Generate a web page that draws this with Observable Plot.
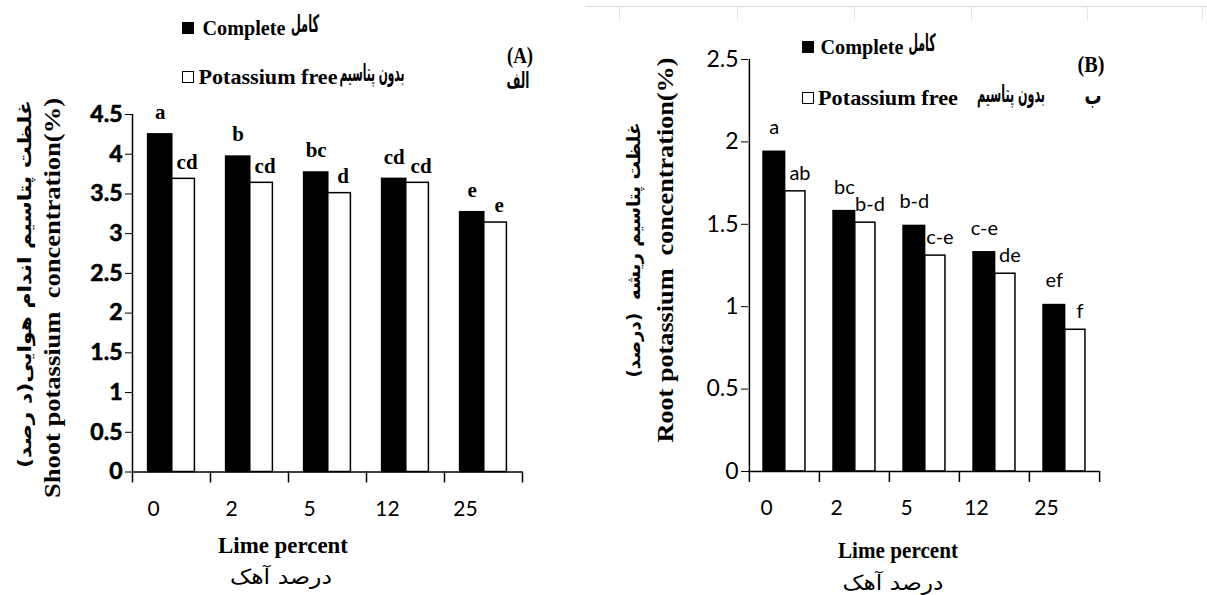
<!DOCTYPE html>
<html>
<head>
<meta charset="utf-8">
<script src="https://cdn.jsdelivr.net/npm/d3@7"></script>
<script src="https://cdn.jsdelivr.net/npm/@observablehq/plot@0.6"></script>
<style>
  body { margin: 0; background: #fff; }
  #wrap { position: relative; width: 1207px; height: 595px; overflow: hidden; background: #fff; }
  #wrap svg { position: absolute; top: 0; }
  .abs { position: absolute; white-space: pre; color: #000; line-height: 1; }
  .sq { position: absolute; box-sizing: border-box; }
  .grid { position: absolute; background: #d9d9d9; }
</style>
</head>
<body>
<div id="wrap"></div>
<script>
// ---------- data ----------
const limePercent = ["0", "2", "5", "12", "25"];
const seriesNames = ["Complete", "Potassium free"];

// Panel A: shoot potassium concentration (%)
const shootComplete = [4.25, 3.97, 3.77, 3.69, 3.27];
const shootKFree    = [3.69, 3.64, 3.51, 3.64, 3.14];
const shootLettersComplete = ["a", "b", "bc", "cd", "e"];
const shootLettersKFree    = ["cd", "cd", "d", "cd", "e"];
const shootTicks = [0, 0.5, 1, 1.5, 2, 2.5, 3, 3.5, 4, 4.5];

// Panel B: root potassium concentration (%)
const rootComplete = [1.94, 1.58, 1.49, 1.33, 1.01];
const rootKFree    = [1.70, 1.51, 1.31, 1.20, 0.86];
const rootLettersComplete = ["a", "bc", "b-d", "c-e", "ef"];
const rootLettersKFree    = ["ab", "b-d", "c-e", "de", "f"];
const rootTicks = [0, 0.5, 1, 1.5, 2, 2.5];

// ---------- drawing ----------
const wrap = document.getElementById("wrap");
const NARROW = "'Liberation Sans Narrow', Lato, sans-serif";

function panel(cfg) {
  const rows = limePercent.map((lime, i) => ({
    lime,
    complete: cfg.complete[i],
    free: cfg.free[i],
    lc: cfg.lettersC[i],
    lf: cfg.lettersF[i]
  }));
  const bw = (cfg.width - cfg.ml - cfg.mr) / limePercent.length;
  const last = limePercent[limePercent.length - 1];
  const svg = Plot.plot({
    width: cfg.width,
    height: 595,
    marginLeft: cfg.ml,
    marginRight: cfg.mr,
    marginTop: cfg.mt,
    marginBottom: cfg.mb,
    style: {
      fontFamily: NARROW,
      fontSize: "23px",
      fontWeight: cfg.tickWeight,
      color: "#000",
      background: "transparent",
      overflow: "visible"
    },
    x: {type: "band", domain: limePercent, paddingInner: 0, paddingOuter: 0, axis: null},
    y: {domain: [0, cfg.ymax], ticks: cfg.ticks, tickFormat: d => String(d), tickSize: 7, tickPadding: 3, label: null},
    marks: [
      Plot.barY(rows, {x: "lime", y: "complete", fill: "#000", stroke: "#000", strokeWidth: 1.5,
        insetLeft: bw * 0.2, insetRight: bw * 0.49, title: () => seriesNames[0]}),
      Plot.barY(rows, {x: "lime", y: "free", fill: "#fff", stroke: "#000", strokeWidth: 1.5,
        insetLeft: bw * 0.51, insetRight: bw * 0.2, title: () => seriesNames[1]}),
      Plot.ruleY([0], {stroke: "#000", strokeWidth: 1.5}),
      Plot.ruleX([limePercent[0]], {x: d => d, dx: -bw / 2, stroke: "#000", strokeWidth: 1.5}),
      Plot.ruleX(limePercent, {x: d => d, y1: 0, y2: 0, dx: -bw / 2, insetBottom: -11, stroke: "#000", strokeWidth: 1.5}),
      Plot.ruleX([last], {x: d => d, y1: 0, y2: 0, dx: bw / 2, insetBottom: -11, stroke: "#000", strokeWidth: 1.5}),
      Plot.text(limePercent, {x: d => d, y: 0, text: d => d, dx: -18, dy: 37,
        fontFamily: NARROW, fontSize: 21, fontWeight: "normal"}),
      Plot.text(rows, {x: "lime", y: "complete", text: "lc", dx: -0.145 * bw, dy: cfg.dyC,
        fontFamily: cfg.letterFont, fontSize: cfg.letterSize, fontWeight: cfg.letterWeight}),
      Plot.text(rows, {x: "lime", y: "free", text: "lf", dx: cfg.dxF * bw, dy: cfg.dyF,
        fontFamily: cfg.letterFont, fontSize: cfg.letterSize, fontWeight: cfg.letterWeight})
    ]
  });
  svg.style.left = cfg.left + "px";
  // y-axis tick labels: font weight / size as in the reference
  svg.querySelectorAll('g[aria-label^="y-axis"] text').forEach(t => {
    t.style.fontFamily = NARROW;
    t.style.fontSize = "23px";
    t.style.fontWeight = cfg.tickWeight;
    if (cfg.tickWeight === "bold") { t.style.stroke = "#000"; t.style.strokeWidth = "0.6px"; }
  });
  wrap.appendChild(svg);
}

panel({left: 0, width: 600, ml: 132, mr: 78, mt: 114, mb: 123.5, ymax: 4.5, ticks: shootTicks,
  complete: shootComplete, free: shootKFree, lettersC: shootLettersComplete, lettersF: shootLettersKFree,
  tickWeight: "bold", letterFont: "'Liberation Serif', serif", letterSize: 21, letterWeight: "bold",
  dyC: -22, dyF: -17, dxF: 0.2});

panel({left: 600, width: 607, ml: 148, mr: 108, mt: 59, mb: 124, ymax: 2.5, ticks: rootTicks,
  complete: rootComplete, free: rootKFree, lettersC: rootLettersComplete, lettersF: rootLettersKFree,
  tickWeight: "normal", letterFont: NARROW, letterSize: 20, letterWeight: "normal",
  dyC: -24, dyF: -18, dxF: 0.22});

// ---------- texts (titles, legends) ----------
const SERIF = "'Liberation Serif', 'Times New Roman', serif";
const FA = "'DejaVu Sans', sans-serif";
function label(txt, o) {
  const s = document.createElement("div");
  s.className = "abs";
  s.textContent = txt;
  if (o.dir) s.dir = o.dir;
  s.style.fontFamily = o.font;
  s.style.fontSize = o.size + "px";
  s.style.fontWeight = o.weight || "normal";
  wrap.appendChild(s);
  const w = s.getBoundingClientRect().width;
  const sx = o.w ? o.w / w : 1;
  s.style.left = o.x + "px";
  s.style.top = o.y + "px";
  s.style.transform = "translate(-50%,-50%)" + (o.rot ? " rotate(-90deg)" : "") + " scaleX(" + sx + ")";
}
function square(x, y, filled) {
  const d = document.createElement("div");
  d.className = "sq";
  d.style.left = x + "px"; d.style.top = (y - 6) + "px";
  d.style.width = "12px"; d.style.height = "12px";
  d.style.background = filled ? "#000" : "#fff";
  d.style.border = "1px solid #000";
  wrap.appendChild(d);
}

// legend A
square(182, 28, true);
label(seriesNames[0], {x: 243.5, y: 28, w: 83, size: 22, font: SERIF, weight: "bold"});
label("کامل", {x: 305, y: 24, w: 28, size: 24, font: FA, weight: "bold", dir: "rtl"});
square(182, 77, false);
label(seriesNames[1], {x: 267.5, y: 77, w: 139, size: 22, font: SERIF, weight: "bold"});
label("بدون پتاسیم", {x: 372, y: 73, w: 65, size: 24, font: FA, weight: "bold", dir: "rtl"});
label("(A)", {x: 520, y: 55, w: 26, size: 24, font: SERIF, weight: "bold"});
label("الف", {x: 518, y: 81, w: 23, size: 22, font: FA, weight: "bold", dir: "rtl"});

// legend B
square(802, 47, true);
label(seriesNames[0], {x: 861.5, y: 47, w: 83, size: 22, font: SERIF, weight: "bold"});
label("کامل", {x: 921.5, y: 43, w: 27, size: 24, font: FA, weight: "bold", dir: "rtl"});
square(802, 98, false);
label(seriesNames[1], {x: 888, y: 98, w: 140, size: 22, font: SERIF, weight: "bold"});
label("بدون پتاسیم", {x: 1011, y: 94, w: 68, size: 24, font: FA, weight: "bold", dir: "rtl"});
label("(B)", {x: 1091, y: 64, w: 27, size: 24, font: SERIF, weight: "bold"});
label("ب", {x: 1093, y: 96, w: 17, size: 24, font: FA, weight: "bold", dir: "rtl"});

// y titles
label("Shoot potassium  concentration(%)", {x: 52, y: 298, w: 400, size: 23, font: SERIF, weight: "bold", rot: true});
label("غلظت پتاسیم اندام هوایی(د رصد)", {x: 25, y: 284, w: 368, size: 18, font: FA, weight: "bold", dir: "rtl", rot: true});
label("Root potassium  concentration(%)", {x: 665, y: 250, w: 385, size: 23, font: SERIF, weight: "bold", rot: true});
label("غلظت پتاسیم ریشه  (درصد)", {x: 634, y: 250, w: 255, size: 18, font: FA, weight: "bold", dir: "rtl", rot: true});

// x titles
label("Lime percent", {x: 283, y: 545, w: 130, size: 23, font: SERIF, weight: "bold"});
label("درصد آهک", {x: 281, y: 577, w: 102, size: 21, font: FA, dir: "rtl"});
label("Lime percent", {x: 898, y: 550, w: 120, size: 23, font: SERIF, weight: "bold"});
label("درصد آهک", {x: 893, y: 583, w: 101, size: 21, font: FA, dir: "rtl"});

// faint spreadsheet gridline at the top right
(function () {
  const h = document.createElement("div");
  h.className = "grid";
  h.style.left = "585px"; h.style.top = "6px"; h.style.width = "622px"; h.style.height = "1px";
  wrap.appendChild(h);
  [619, 737, 854, 971, 1087, 1202].forEach(x => {
    const v = document.createElement("div");
    v.className = "grid";
    v.style.left = x + "px"; v.style.top = "7px"; v.style.width = "1px"; v.style.height = "13px";
    v.style.background = "#e6e6e6";
    wrap.appendChild(v);
  });
})();
</script>
</body>
</html>
